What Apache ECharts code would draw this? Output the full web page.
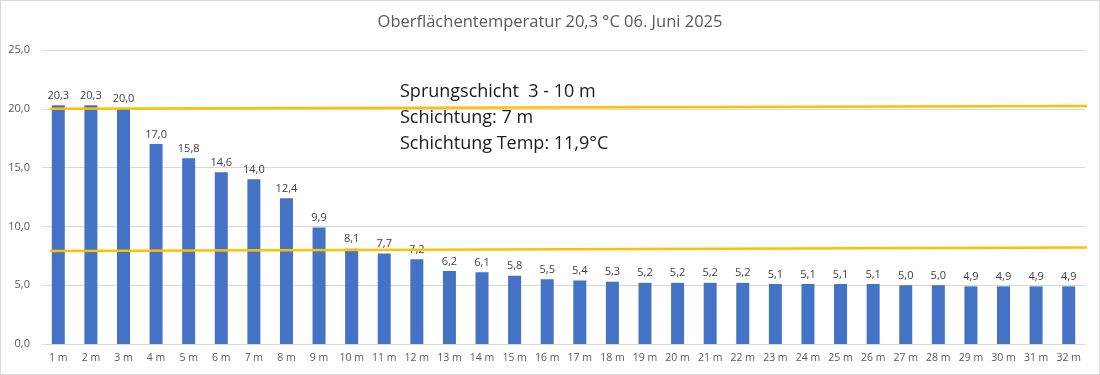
<!DOCTYPE html>
<html><head><meta charset="utf-8">
<script src="https://cdn.jsdelivr.net/npm/echarts@6/dist/echarts.min.js"></script>
<style>html,body{margin:0;padding:0;background:#fff}#c{width:1098px;height:373px;border:1px solid #d9d9d9}</style>
</head><body><div id="c"></div>
<script>
const categories = ['1 m','2 m','3 m','4 m','5 m','6 m','7 m','8 m','9 m','10 m','11 m','12 m','13 m','14 m','15 m','16 m','17 m','18 m','19 m','20 m','21 m','22 m','23 m','24 m','25 m','26 m','27 m','28 m','29 m','30 m','31 m','32 m'];
const temps = [20.3,20.3,20.0,17.0,15.8,14.6,14.0,12.4,9.9,8.1,7.7,7.2,6.2,6.1,5.8,5.5,5.4,5.3,5.2,5.2,5.2,5.2,5.1,5.1,5.1,5.1,5.0,5.0,4.9,4.9,4.9,4.9];
const yTicks = [0,5,10,15,20,25];
const upperLine = [[0.25,20.0],[32.25,20.25]];
const lowerLine = [[0.25,7.9],[32.25,8.2]];
const titleText = 'Oberflächentemperatur 20,3 °C 06. Juni 2025';
const noteLines = ['Sprungschicht  3 - 10 m','Schichtung: 7 m','Schichtung Temp: 11,9°C'];

const fmt = v => v.toFixed(1).replace('.', ',');
const chart = echarts.init(document.getElementById('c'));
const font = '"Open Sans", "Noto Sans", sans-serif';
chart.setOption({
  animation:false,
  textStyle:{fontFamily:font},
  title:{text:titleText,left:'center',top:8,textStyle:{fontSize:16.5,fontWeight:'normal',color:'#595959',fontFamily:font}},
  grid:{left:41,right:14,top:49,bottom:30},
  xAxis:[
    {type:'category',data:categories,axisTick:{show:false},axisLine:{lineStyle:{color:'#d9d9d9'}},
     axisLabel:{color:'#595959',fontSize:10.5,margin:9,interval:0}},
    {type:'value',min:0,max:32,show:false}
  ],
  yAxis:{type:'value',min:yTicks[0],max:yTicks[yTicks.length-1],interval:5,
    axisLabel:{color:'#595959',fontSize:11,formatter:v=>fmt(v),margin:12},
    splitLine:{lineStyle:{color:'#d9d9d9'}},axisLine:{show:false},axisTick:{show:false}},
  series:[
    {type:'bar',data:temps,barWidth:13,itemStyle:{color:'#4472C4'},
     label:{show:true,position:'top',distance:4,color:'#404040',fontSize:11,formatter:p=>fmt(p.value)}},
    {type:'line',xAxisIndex:1,data:upperLine,symbol:'none',clip:false,lineStyle:{color:'#FFC000',width:2.5},z:5},
    {type:'line',xAxisIndex:1,data:lowerLine,symbol:'none',clip:false,lineStyle:{color:'#FFC000',width:2.5},z:5}
  ],
  graphic: noteLines.map((t,i)=>({type:'text',left:399,top:82+i*26,style:{text:t,fontSize:18,fill:'#1a1a1a',fontFamily:font}}))
});
</script></body></html>
